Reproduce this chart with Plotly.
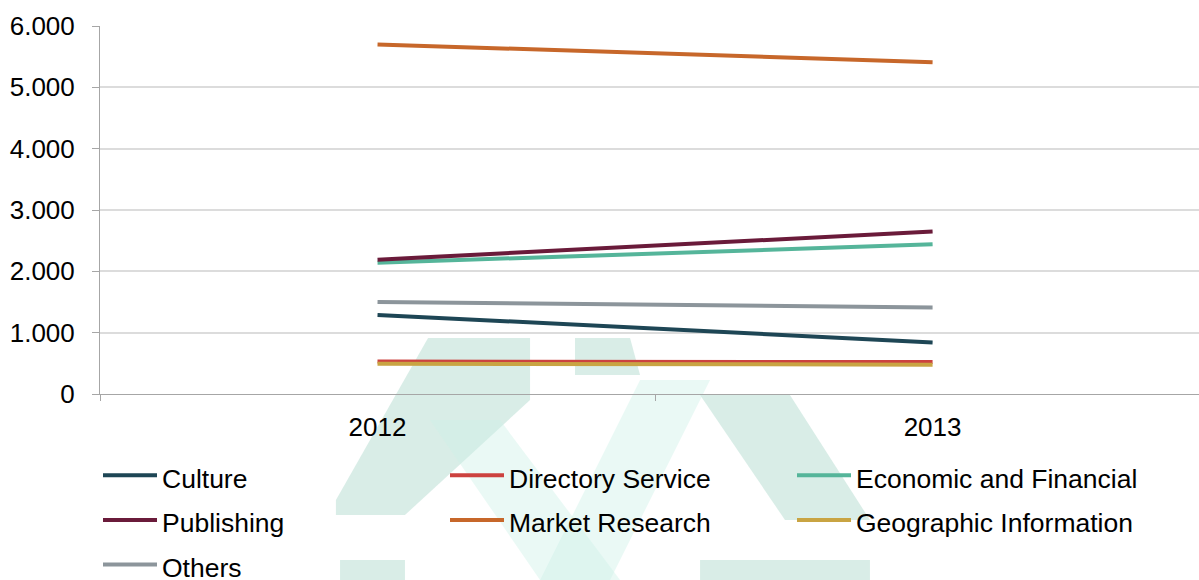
import plotly.graph_objects as go

# Data (values per year)
years = ["2012", "2013"]
culture = [1290, 840]
directory_service = [530, 520]
economic_financial = [2140, 2440]
publishing = [2190, 2650]
market_research = [5700, 5410]
geographic_info = [495, 478]
others = [1500, 1410]

series = [
    ("Culture", culture, "#1e4655"),
    ("Directory Service", directory_service, "#cc423f"),
    ("Economic and Financial", economic_financial, "#55b59a"),
    ("Publishing", publishing, "#6a1b3a"),
    ("Market Research", market_research, "#c7672a"),
    ("Geographic Information", geographic_info, "#c9a443"),
    ("Others", others, "#8c959b"),
]

W, H = 1199, 580
L, R, T, B = 100, 0, 26, 186
PW, PH = W - L - R, H - T - B


def px(x, y):
    """Pixel position on the page to paper coordinates."""
    return (x - L) / PW, (H - B - y) / PH


fig = go.Figure()
for name, vals, color in series:
    fig.add_trace(go.Scatter(
        x=years, y=vals, mode="lines",
        name=f"<span style='font-size:26.5px'>{name}</span>",
        line=dict(color=color, width=4),
    ))

# Faint background logo
dark = "rgba(165,212,198,0.42)"
light = "rgba(205,240,230,0.42)"
blocks = [
    ([(428, 338), (530, 338), (530, 400), (405, 515), (336, 515), (336, 500)], dark),
    ([(575, 338), (630, 338), (640, 375), (575, 375)], dark),
    ([(700, 395), (790, 395), (870, 520), (785, 520)], dark),
    ([(430, 420), (500, 420), (620, 580), (540, 580)], light),
    ([(640, 380), (710, 380), (610, 580), (540, 580)], light),
    ([(340, 560), (405, 560), (405, 580), (340, 580)], dark),
    ([(700, 560), (870, 560), (870, 580), (700, 580)], dark),
]
for pts, col in blocks:
    coords = [px(x, y) for x, y in pts]
    path = "M " + " L ".join(f"{a:.4f},{b:.4f}" for a, b in coords) + " Z"
    fig.add_shape(type="path", path=path, xref="paper", yref="paper",
                  fillcolor=col, line=dict(width=0), layer="below")

font = "Liberation Sans, Arial, sans-serif"
fig.update_layout(
    width=W, height=H,
    margin=dict(l=L, r=R, t=T, b=B, autoexpand=False),
    paper_bgcolor="white", plot_bgcolor="rgba(0,0,0,0)",
    font=dict(family=font, size=26, color="#000000"),
    separators=",.",
    showlegend=True,
    legend=dict(
        orientation="h",
        xref="container", x=98 / W, xanchor="left",
        yref="container", y=1 - 448 / H, yanchor="top",
        entrywidth=278, entrywidthmode="pixels",
        itemwidth=54, tracegroupgap=0,
        font=dict(family=font, size=32, color="#000000"),
        bgcolor="rgba(0,0,0,0)",
    ),
    xaxis=dict(
        type="category", range=[-0.5, 1.48], automargin=False,
        showline=True, linecolor="#a6a6a6", linewidth=1,
        ticks="outside", tickson="boundaries", ticklen=6, tickcolor="#a6a6a6",
        showgrid=False, zeroline=False, ticklabelstandoff=10,
        tickfont=dict(size=26),
    ),
    yaxis=dict(
        range=[0, 6000], dtick=1000, tickformat=",d", automargin=False,
        showline=True, linecolor="#a6a6a6", linewidth=1,
        ticks="outside", ticklen=7, tickcolor="#a6a6a6",
        showgrid=True, gridcolor="#dcdcdc", gridwidth=1.5,
        zeroline=False, ticklabelstandoff=12,
        tickfont=dict(size=26),
    ),
)

fig.write_html("out.html")
